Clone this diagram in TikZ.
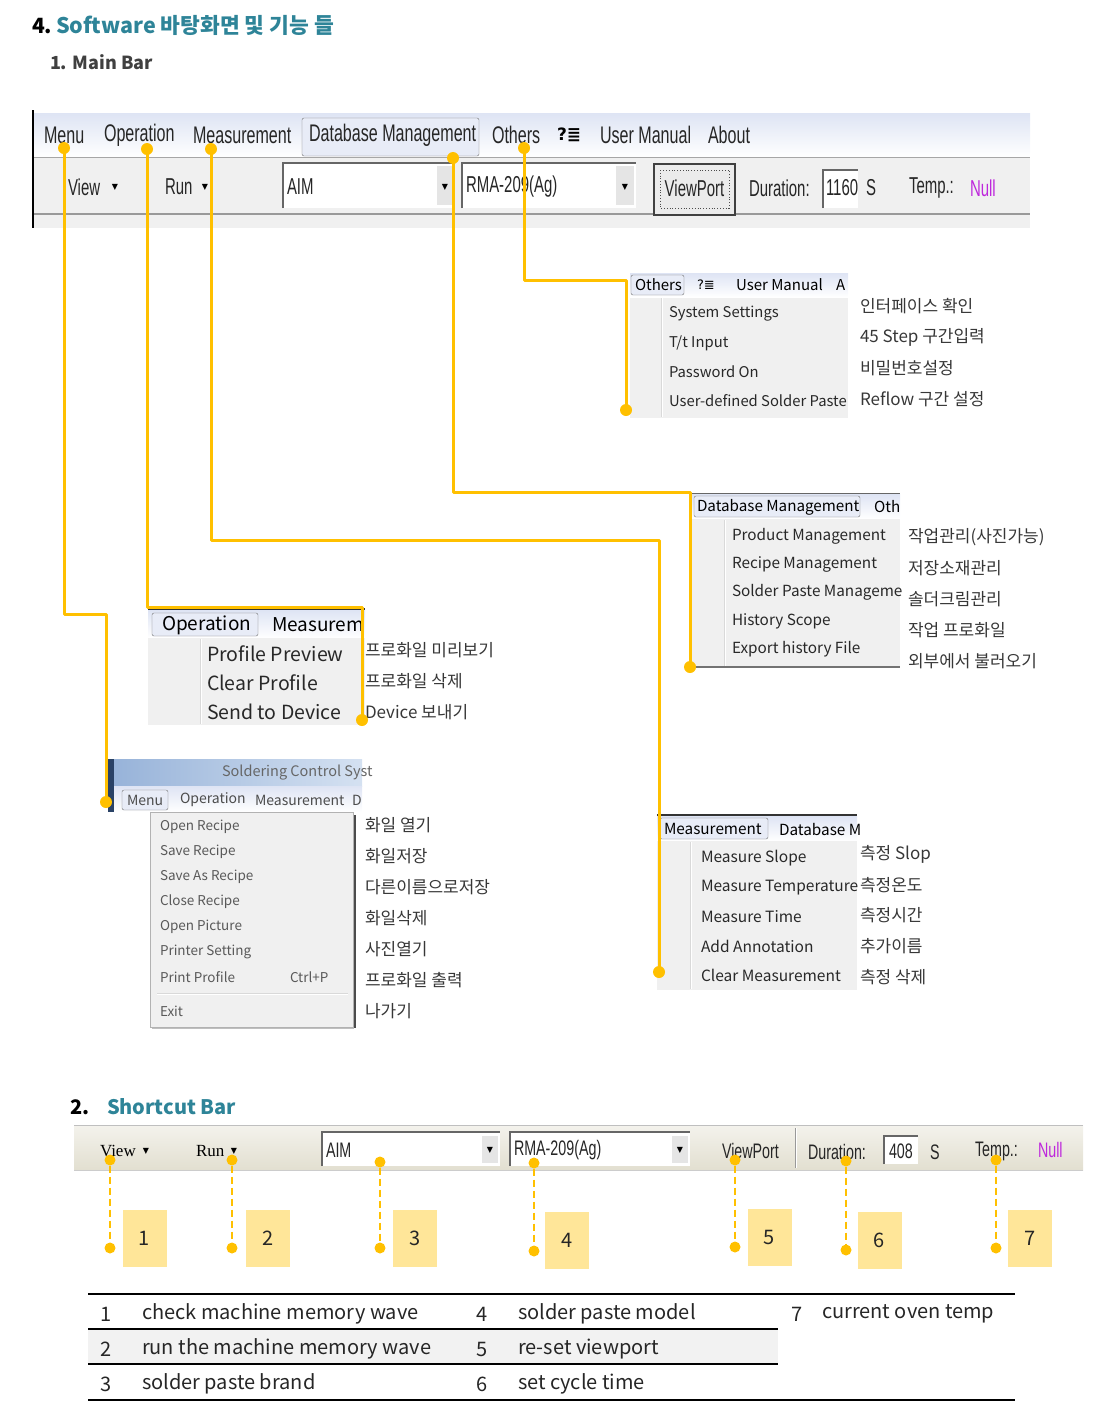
\documentclass[tikz,border=0pt]{standalone}
\usepackage{fontspec}
\setmainfont{Noto Sans CJK KR}
\newfontfamily\barfont{Liberation Sans}
\newfontfamily\serfont{Liberation Serif}
\newfontfamily\symfont{DejaVu Sans}
\usetikzlibrary{positioning,calc}

\definecolor{tealT}{RGB}{46,132,152}
\definecolor{gold}{RGB}{255,192,0}
\definecolor{numbox}{RGB}{255,230,153}
\definecolor{popgray}{RGB}{240,240,240}
\definecolor{menutop}{RGB}{222,228,244}
\definecolor{nullc}{RGB}{190,40,220}
\definecolor{xpbar}{RGB}{226,223,208}
\definecolor{txt}{RGB}{40,40,40}
\definecolor{kor}{RGB}{55,55,55}
\definecolor{wintitle}{RGB}{170,195,228}
\definecolor{winedge}{RGB}{70,110,170}

\newcommand{\fsz}[1]{\fontsize{#1}{#1}\selectfont}

\begin{document}
\begin{tikzpicture}[x=1pt, y=-1pt,
  every node/.style={inner sep=0, outer sep=0},
  barlbl/.style={anchor=west, font=\barfont\fsz{24}, xscale=0.67, text=black!85},
  barlbl2/.style={anchor=west, font=\barfont\fsz{23}, xscale=0.65, text=black!85},
  sclbl/.style={anchor=west, font=\barfont\fsz{21}, xscale=0.68, text=black!85},
  tri/.style={font=\symfont\fsz{8}},
  hdrbox/.style={draw=black!55, fill=menutop!70, rounded corners=2pt},
  item/.style={anchor=west, text=txt},
  kr/.style={anchor=west, font=\fsz{17}, text=kor},
  dot/.style={circle, fill=gold, minimum size=12pt},
  conn/.style={draw=gold, line width=3pt, line join=round},
  sconn/.style={draw=gold, line width=2.5pt, dash pattern=on 7pt off 4pt},
  nbox/.style={fill=numbox, minimum width=44pt, minimum height=57pt, font=\fsz{20}, text=black!85},
  tnum/.style={anchor=west, font=\fsz{20}, text=black!85},
]
\useasboundingbox (0,0) rectangle (1097,1411);

% titles
\node[anchor=base west, font=\bfseries\fsz{21}] (sec4) at (32,33) {4.};
\node[anchor=base west, font=\bfseries\fsz{21.5}, text=tealT] (sec4t) at (56,33) {Software 바탕화면 및 기능 들};
\node[anchor=base west, font=\bfseries\fsz{18}, text=black!75] (sub1) at (50,69) {1. Main Bar};

% main bar
\shade[top color=menutop, bottom color=white] (33,113) rectangle (1030,157);
\fill[popgray] (33,158) rectangle (1030,213);
\draw[black!35, line width=1.5pt] (33,157.5) -- (1030,157.5);
\fill[black!6] (33,215) rectangle (1030,228);
\draw[black!40, line width=2pt] (33,214) -- (1030,214);
\draw[black, line width=1.5pt] (33,110) -- (33,228);
\draw[hdrbox] (302,118) rectangle (479,156);
\foreach \lbl/\x [count=\i] in {Menu/44, Operation/104, Measurement/193, Database Management/309, Others/492, User Manual/600, About/708}
  \node[barlbl] (mb-\i) at (\x,135) {\lbl};
\node[anchor=west, font=\symfont\bfseries\fsz{17}] (mb-help) at (557,135) {?≣};

\node[barlbl2] (vw) at (68,187) {View};
\node[tri] (vw-t) at (115,187) {▼};
\node[barlbl2] (rn) at (165,187) {Run};
\node[tri] (rn-t) at (205,187) {▼};
\fill[white] (283,163) rectangle (455,208);
\draw[black!60, line width=2pt] (283,208) -- (283,163) -- (455,163);
\fill[black!10] (437,166) rectangle (453,205);
\node[tri] (aim-t) at (445,187) {▼};
\node[barlbl2] (aim) at (287,187) {AIM};
\fill[white] (462,163) rectangle (636,208);
\draw[black!60, line width=2pt] (462,208) -- (462,163) -- (636,163);
\fill[black!10] (616,166) rectangle (634,205);
\node[tri] (rma-t) at (625,187) {▼};
\node[barlbl2] (rma) at (466,187) {RMA-209(Ag)};
\draw[fill=black!8, draw=black!75, line width=2.5pt] (654,164) rectangle (735,215);
\draw[black!70, dotted, line width=0.8pt] (660,170) rectangle (729,208);
\node[barlbl2, anchor=center] (vp) at (694.5,188) {ViewPort};
\node[barlbl2] (dur) at (749,188) {Duration:};
\fill[white] (823,170) rectangle (858,208);
\draw[black!60, line width=1.5pt] (823,208) -- (823,170) -- (858,170);
\node[barlbl2] (durv) at (826,188) {1160};
\node[barlbl2] (durs) at (866,188) {S};
\node[barlbl2] (tmp) at (909,188) {Temp.:};
\node[barlbl2, text=nullc] (tmpv) at (970,188) {Null};

% Others popup
\fill[popgray] (630,297) rectangle (848,418);
\shade[top color=menutop, bottom color=white] (630,273) rectangle (848,297);
\draw[hdrbox] (631,275) rectangle (684,295);
\node[anchor=west, font=\fsz{15}] (oh-1) at (635,285) {Others};
\node[anchor=west, font=\symfont\fsz{13}] (oh-2) at (697,285) {?≣};
\node[anchor=west, font=\fsz{15}] (oh-3) at (736,285) {User Manual};
\node[anchor=west, font=\fsz{15}] (oh-4) at (836,285) {A};
\draw[black!15] (661,298) -- (661,417);
\draw[white] (662.5,298) -- (662.5,417);
\foreach \lbl [count=\i] in {System Settings, T/t Input, Password On, User-defined Solder Paste}
  \node[item, font=\fsz{14.8}] (oi-\i) at (669,285+29*\i) {\lbl};
\foreach \lbl [count=\i] in {인터페이스 확인, 45 Step 구간입력, 비밀번호설정, Reflow 구간 설정}
  \node[kr] (ok-\i) at (860,275+31*\i) {\lbl};

% Database popup
\draw[black!60] (692,493) -- (900,493);
\shade[top color=menutop, bottom color=white] (692,494) rectangle (900,519);
\fill[popgray] (692,519) rectangle (900,667);
\draw[hdrbox] (694,496) rectangle (860,517);
\node[anchor=west, font=\fsz{15.2}] (dh-1) at (697,507) {Database Management};
\node[anchor=west, font=\fsz{15.2}] (dh-2) at (874,507) {Oth};
\draw[black!15] (724,520) -- (724,666);
\draw[white] (725.5,520) -- (725.5,666);
\draw[black!55, line width=1.5pt] (692,667) -- (900,667);
\foreach \lbl [count=\i] in {Product Management, Recipe Management, Solder Paste Manageme, History Scope, Export history File}
  \node[item, font=\fsz{15.3}] (di-\i) at (732,508+28.25*\i) {\lbl};
\foreach \lbl [count=\i] in {작업관리(사진가능), 저장소재관리, 솔더크림관리, 작업 프로화일, 외부에서 불러오기}
  \node[kr] (dk-\i) at (908,506+31*\i) {\lbl};

% Operation popup
\draw[black!80, line width=1.5pt] (148,609) -- (365,609);
\shade[top color=menutop, bottom color=white] (148,610) rectangle (365,638);
\fill[popgray] (148,638) rectangle (365,725);
\draw[hdrbox] (152,613) rectangle (258,636);
\node[anchor=west, font=\fsz{19}] (ph-1) at (162,625) {Operation};
\node[anchor=west, font=\fsz{19}] (ph-2) at (272,625) {Measurem};
\draw[black!15] (200,639) -- (200,724);
\draw[white] (201.5,639) -- (201.5,724);
\foreach \lbl [count=\i] in {Profile Preview, Clear Profile, Send to Device}
  \node[item, font=\fsz{19.5}] (pi-\i) at (207,625+29*\i) {\lbl};
\foreach \lbl [count=\i] in {프로화일 미리보기, 프로화일 삭제, Device 보내기}
  \node[kr] (pk-\i) at (365,619+31*\i) {\lbl};

% Menu popup
\shade[left color=wintitle!80!winedge, right color=wintitle!50] (108,759) rectangle (362,786);
\node[anchor=west, font=\fsz{14.5}, text=black!60] (wt) at (222,773) {Soldering Control Syst};
\shade[top color=menutop, bottom color=white] (108,786) rectangle (362,812);
\fill[winedge!60!black] (108,759) rectangle (114,812);
\draw[hdrbox] (122,790) rectangle (168,810);
\foreach \lbl/\x [count=\i] in {Menu/127, Operation/180, Measurement/255, D/352}
  \node[anchor=west, font=\fsz{14}, text=black!70] (wh-\i) at (\x,800) {\lbl};
\draw[fill=popgray, draw=black!30] (150,812) rectangle (353,1027);
\draw[black!70, line width=2pt] (354.5,815) -- (354.5,1028);
\draw[black!25, line width=1pt] (152,1028) -- (354,1028);
\foreach \lbl [count=\i] in {Open Recipe, Save Recipe, Save As Recipe, Close Recipe, Open Picture, Printer Setting, Print Profile}
  \node[item, font=\fsz{13.5}, text=black!65] (wi-\i) at (160,802+25*\i) {\lbl};
\node[item, font=\fsz{13.5}, text=black!65] (wi-ctrl) at (290,977) {Ctrl+P};
\draw[black!15] (157,993) -- (348,993);
\draw[white] (157,994.5) -- (348,994.5);
\node[item, font=\fsz{13.5}, text=black!65] (wi-8) at (160,1011) {Exit};
\foreach \lbl [count=\i] in {화일 열기, 화일저장, 다른이름으로저장, 화일삭제, 사진열기, 프로화일 출력, 나가기}
  \node[kr] (wk-\i) at (365,794+31*\i) {\lbl};

% Measurement popup
\draw[black!80, line width=1.5pt] (657,815) -- (857,815);
\shade[top color=menutop, bottom color=white] (657,816) rectangle (857,841);
\fill[popgray] (657,841) rectangle (857,990);
\draw[hdrbox] (660,818) rectangle (768,839);
\node[anchor=west, font=\fsz{15.3}] (sh-1) at (664,829) {Measurement};
\node[anchor=west, font=\fsz{15.3}] (sh-2) at (779,829) {Database M};
\draw[black!15] (690,842) -- (690,989);
\draw[white] (691.5,842) -- (691.5,989);
\foreach \lbl [count=\i] in {Measure Slope, Measure Temperature, Measure Time, Add Annotation, Clear Measurement}
  \node[item, font=\fsz{15.5}] (si-\i) at (701,829+29.25*\i) {\lbl};
\foreach \lbl [count=\i] in {측정 Slop, 측정온도, 측정시간, 추가이름, 측정 삭제}
  \node[kr] (sk-\i) at (860,823.5+30.7*\i) {\lbl};

% connectors of the main bar
\foreach \nm/\xa/\ya/\yl/\xb/\yb in {menu/64/148/614/106/802, oper/147/149/607/362/720, meas/211/149/540/659/972, data/453/158/492/690/667, othr/524/148/280/626/410} {
  \node[dot] (top-\nm) at (\xa,\ya) {};
  \node[dot] (end-\nm) at (\xb,\yb) {};
  \coordinate (lvl-\nm) at (0,\yl);
  \draw[conn] (top-\nm.center) -- (top-\nm.center |- lvl-\nm) -- (end-\nm.center |- lvl-\nm) -- (end-\nm.center);
}

% shortcut bar
\node[anchor=base west, font=\bfseries\fsz{20}] (sec2) at (70,1114) {2.};
\node[anchor=base west, font=\bfseries\fsz{20}, text=tealT] (sec2t) at (107,1114) {Shortcut Bar};
\shade[top color=white!60!xpbar, bottom color=xpbar] (74,1125) rectangle (1083,1170);
\draw[black!25] (74,1125) -- (1083,1125);
\draw[black!20] (74,1170) -- (1083,1170);
\node[anchor=west, font=\serfont\fsz{17}] (sc-vw) at (100,1151) {View};
\node[tri] (sc-vwt) at (146,1151) {▼};
\node[anchor=west, font=\serfont\fsz{17}] (sc-rn) at (196,1151) {Run};
\node[tri] (sc-rnt) at (234,1151) {▼};
\fill[white] (322,1132) rectangle (500,1166);
\draw[black!60, line width=2pt] (322,1166) -- (322,1132) -- (500,1132);
\fill[black!10] (482,1136) rectangle (498,1163);
\node[tri] (sc-aimt) at (490,1150) {▼};
\node[sclbl] (sc-aim) at (326,1150) {AIM};
\fill[white] (510,1132) rectangle (690,1166);
\draw[black!60, line width=2pt] (510,1166) -- (510,1132) -- (690,1132);
\fill[black!10] (672,1136) rectangle (688,1163);
\node[tri] (sc-rmat) at (680,1150) {▼};
\node[sclbl] (sc-rma) at (514,1150) {RMA-209(Ag)};
\node[sclbl] (sc-vp) at (722,1151) {ViewPort};
\draw[black!40] (795,1128) -- (795,1168);
\draw[white] (796.5,1128) -- (796.5,1168);
\node[sclbl] (sc-dur) at (808,1152) {Duration:};
\fill[white] (884,1136) rectangle (918,1164);
\draw[black!60, line width=1.5pt] (884,1164) -- (884,1136) -- (918,1136);
\node[sclbl] (sc-durv) at (889,1151) {408};
\node[sclbl] (sc-durs) at (930,1152) {S};
\node[sclbl] (sc-tmp) at (975,1151) {Temp.:};
\node[sclbl, text=nullc] (sc-tmpv) at (1038,1150) {Null};

\foreach \xa/\ya/\yb/\xb/\yc [count=\i] in {110/1160/1248/144.5/1238.5, 232/1160/1248/268/1238.5, 380/1162/1248/415/1238.5, 534/1163/1251/567/1240.5, 735/1160/1247/769.5/1237, 846/1161/1250/879.5/1240.5, 996/1160/1248/1030/1238.5} {
  \node[nbox] (nb-\i) at (\xb,\yc) {\i};
  \node[dot, minimum size=11pt] (st-\i) at (\xa,\ya) {};
  \node[dot, minimum size=11pt] (sb-\i) at (\xa,\yb) {};
  \draw[sconn] (st-\i) -- (sb-\i);
}

% table
\fill[black!5] (88,1330) rectangle (778,1363);
\draw[line width=2pt] (88,1294) -- (1015,1294);
\draw[line width=2pt] (88,1329) -- (778,1329);
\draw[line width=2pt] (88,1364) -- (778,1364);
\draw[line width=2pt] (88,1400) -- (1015,1400);
\foreach \n/\lbl [count=\i] in {1/check machine memory wave, 2/run the machine memory wave, 3/solder paste brand} {
  \node[tnum] (tn-\n) at (100,1279+35*\i) {\n};
  \node[tnum] (tt-\n) at (142,1279+35*\i) {\lbl};
}
\foreach \n/\lbl [count=\i] in {4/solder paste model, 5/re-set viewport, 6/set cycle time} {
  \node[tnum] (tn-\n) at (476,1279+35*\i) {\n};
  \node[tnum] (tt-\n) at (518,1279+35*\i) {\lbl};
}
\node[tnum] (tn-7) at (791,1314) {7};
\node[tnum] (tt-7) at (822,1314) {current oven temp};
\end{tikzpicture}
\end{document}
